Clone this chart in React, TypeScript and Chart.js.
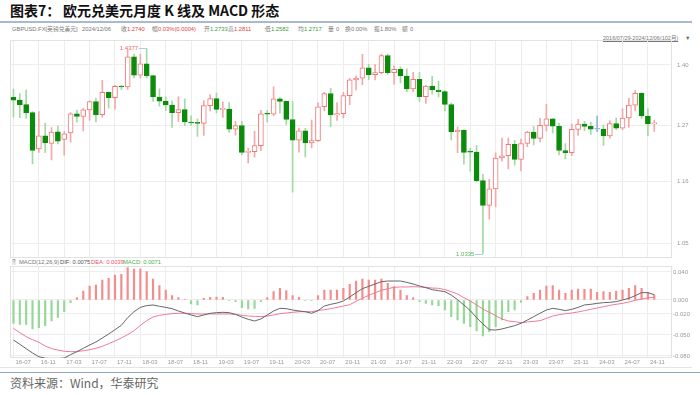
import React, { useEffect, useRef } from 'react';
import { Chart, registerables } from 'chart.js';

Chart.register(...registerables);

// ---------- categories ----------
const START_YEAR = 2016;
const START_MONTH = 7;
const COUNT = 102;
const months: string[] = Array.from({ length: COUNT }, (_, i) => {
  const m = START_MONTH - 1 + i;
  const yy = START_YEAR + Math.floor(m / 12);
  const mm = (m % 12) + 1;
  return `${String(yy).slice(2)}-${String(mm).padStart(2, '0')}`;
});
const labelIndexes: number[] = months.map((_, i) => i).filter((i) => i % 4 === 0);

// ---------- monthly candles (GBPUSD) ----------
const opens = [
  1.3290, 1.3230, 1.3135, 1.2966, 1.2230, 1.2490, 1.2340, 1.2570, 1.2418, 1.2549,
  1.2940, 1.2887, 1.3025, 1.3200, 1.2925, 1.3398, 1.3281, 1.3527, 1.3513, 1.4187,
  1.3771, 1.4024, 1.3764, 1.3296, 1.3207, 1.3126, 1.2966, 1.3030, 1.2772, 1.2751,
  1.2745, 1.3114, 1.3262, 1.3033, 1.3040, 1.2624, 1.2700, 1.2164, 1.2175, 1.2294,
  1.2941, 1.2935, 1.3257, 1.3205, 1.2824, 1.2404, 1.2594, 1.2347, 1.2396, 1.3089,
  1.3372, 1.2917, 1.2945, 1.3326, 1.3670, 1.3706, 1.3935, 1.3783, 1.3830, 1.4213,
  1.3829, 1.3900, 1.3755, 1.3473, 1.3682, 1.3302, 1.3532, 1.3447, 1.3413, 1.3137,
  1.2573, 1.2603, 1.2177, 1.2166, 1.1622, 1.1166, 1.1469, 1.2053, 1.2097, 1.2323,
  1.2026, 1.2337, 1.2567, 1.2440, 1.2702, 1.2836, 1.2686, 1.2199, 1.2159, 1.2622,
  1.2730, 1.2683, 1.2624, 1.2624, 1.2491, 1.2741, 1.2645, 1.2855, 1.3125, 1.3375,
  1.2897, 1.2733,
];
const highs = [
  1.3470, 1.3372, 1.3445, 1.2990, 1.2990, 1.2750, 1.2660, 1.2690, 1.2580, 1.2966,
  1.3020, 1.3055, 1.3213, 1.3267, 1.3657, 1.3400, 1.3549, 1.3555, 1.4346, 1.4250,
  1.4245, 1.4377, 1.3770, 1.3472, 1.3300, 1.3213, 1.3298, 1.3258, 1.2900, 1.2840,
  1.3218, 1.3350, 1.3381, 1.3196, 1.3177, 1.2784, 1.2784, 1.2249, 1.2583, 1.3013,
  1.3013, 1.3514, 1.3285, 1.3212, 1.3200, 1.2647, 1.2645, 1.2813, 1.3171, 1.3395,
  1.3482, 1.3177, 1.3398, 1.3704, 1.3759, 1.4241, 1.4017, 1.4009, 1.4249, 1.4249,
  1.3984, 1.3958, 1.3913, 1.3834, 1.3835, 1.3548, 1.3749, 1.3644, 1.3437, 1.3167,
  1.2667, 1.2617, 1.2246, 1.2294, 1.1738, 1.1646, 1.2154, 1.2446, 1.2448, 1.2402,
  1.2424, 1.2584, 1.2680, 1.2848, 1.3142, 1.2841, 1.2746, 1.2337, 1.2733, 1.2828,
  1.2786, 1.2773, 1.2894, 1.2709, 1.2801, 1.2860, 1.3044, 1.3266, 1.3434, 1.3390,
  1.3048, 1.2811,
];
const lows = [
  1.2870, 1.2860, 1.2850, 1.1940, 1.2160, 1.2158, 1.2015, 1.2327, 1.2110, 1.2365,
  1.2771, 1.2589, 1.2812, 1.2774, 1.2873, 1.3060, 1.3040, 1.3460, 1.3460, 1.3711,
  1.3711, 1.3711, 1.3204, 1.3102, 1.3010, 1.2662, 1.2785, 1.2696, 1.2700, 1.2477,
  1.2500, 1.3000, 1.2960, 1.2866, 1.2559, 1.2506, 1.2119, 1.1959, 1.2070, 1.2195,
  1.2769, 1.2905, 1.2954, 1.2725, 1.1409, 1.2165, 1.2076, 1.2252, 1.2380, 1.3005,
  1.2676, 1.2805, 1.2855, 1.3135, 1.3451, 1.3566, 1.3671, 1.3669, 1.3798, 1.3787,
  1.3572, 1.3602, 1.3412, 1.3412, 1.3195, 1.3161, 1.3358, 1.3300, 1.3001, 1.2411,
  1.2155, 1.1934, 1.1800, 1.1600, 1.0335, 1.0924, 1.1140, 1.1992, 1.1841, 1.1915,
  1.1803, 1.2275, 1.2308, 1.2369, 1.2591, 1.2548, 1.2111, 1.2037, 1.2096, 1.2500,
  1.2597, 1.2518, 1.2575, 1.2300, 1.2446, 1.2613, 1.2615, 1.2665, 1.3002, 1.2844,
  1.2487, 1.2582,
];
const closes = [
  1.3230, 1.3135, 1.2966, 1.2200, 1.2490, 1.2350, 1.2565, 1.2385, 1.2530, 1.2940,
  1.2887, 1.3025, 1.3200, 1.2925, 1.3398, 1.3281, 1.3527, 1.3513, 1.4187, 1.3771,
  1.4024, 1.3764, 1.3296, 1.3207, 1.3126, 1.2966, 1.3030, 1.2772, 1.2751, 1.2745,
  1.3114, 1.3262, 1.3033, 1.3040, 1.2624, 1.2700, 1.2164, 1.2175, 1.2294, 1.2941,
  1.2935, 1.3257, 1.3205, 1.2824, 1.2404, 1.2594, 1.2347, 1.2396, 1.3089, 1.3372,
  1.2917, 1.2945, 1.3326, 1.3670, 1.3706, 1.3935, 1.3783, 1.3830, 1.4213, 1.3829,
  1.3900, 1.3755, 1.3473, 1.3682, 1.3302, 1.3532, 1.3447, 1.3413, 1.3137, 1.2573,
  1.2603, 1.2164, 1.2166, 1.1622, 1.1166, 1.1469, 1.2053, 1.2097, 1.2323, 1.2026,
  1.2337, 1.2567, 1.2440, 1.2702, 1.2836, 1.2686, 1.2199, 1.2159, 1.2622, 1.2730,
  1.2683, 1.2624, 1.2624, 1.2491, 1.2741, 1.2645, 1.2855, 1.3125, 1.3375, 1.2897,
  1.2733, 1.2740,
];

// ---------- MACD(12,26,9) ----------
const dif = [
  -0.0571, -0.0633, -0.0695, -0.0757, -0.0810, -0.0833, -0.0838, -0.0838, -0.0829, -0.0781,
  -0.0738, -0.0690, -0.0643, -0.0600, -0.0543, -0.0486, -0.0424, -0.0362, -0.0252, -0.0167,
  -0.0105, -0.0081, -0.0071, -0.0090, -0.0105, -0.0124, -0.0157, -0.0186, -0.0214, -0.0238,
  -0.0214, -0.0190, -0.0181, -0.0176, -0.0181, -0.0205, -0.0243, -0.0276, -0.0300, -0.0271,
  -0.0214, -0.0157, -0.0119, -0.0124, -0.0143, -0.0157, -0.0167, -0.0190, -0.0152, -0.0086,
  -0.0062, -0.0043, -0.0014, 0.0043, 0.0105, 0.0162, 0.0195, 0.0229, 0.0262, 0.0271,
  0.0271, 0.0271, 0.0252, 0.0229, 0.0200, 0.0176, 0.0148, 0.0133, 0.0119, 0.0071,
  0.0005, -0.0071, -0.0152, -0.0252, -0.0343, -0.0424, -0.0429, -0.0414, -0.0390, -0.0367,
  -0.0333, -0.0286, -0.0238, -0.0190, -0.0143, -0.0119, -0.0133, -0.0152, -0.0133, -0.0105,
  -0.0071, -0.0062, -0.0048, -0.0038, -0.0033, -0.0024, 0.0000, 0.0024, 0.0062, 0.0105,
  0.0105, 0.0075,
];
const dea = [
  -0.0405, -0.0467, -0.0524, -0.0567, -0.0605, -0.0657, -0.0695, -0.0714, -0.0733, -0.0738,
  -0.0738, -0.0724, -0.0710, -0.0690, -0.0662, -0.0624, -0.0586, -0.0543, -0.0495, -0.0438,
  -0.0362, -0.0295, -0.0243, -0.0219, -0.0205, -0.0195, -0.0190, -0.0190, -0.0195, -0.0200,
  -0.0200, -0.0200, -0.0200, -0.0200, -0.0200, -0.0205, -0.0219, -0.0229, -0.0233, -0.0238,
  -0.0229, -0.0214, -0.0195, -0.0186, -0.0176, -0.0167, -0.0167, -0.0167, -0.0152, -0.0138,
  -0.0124, -0.0105, -0.0086, -0.0067, -0.0019, 0.0024, 0.0067, 0.0105, 0.0138, 0.0162,
  0.0181, 0.0186, 0.0186, 0.0190, 0.0186, 0.0181, 0.0171, 0.0167, 0.0148, 0.0119,
  0.0086, 0.0033, -0.0014, -0.0071, -0.0129, -0.0176, -0.0224, -0.0271, -0.0300, -0.0310,
  -0.0324, -0.0314, -0.0305, -0.0295, -0.0262, -0.0229, -0.0210, -0.0195, -0.0186, -0.0171,
  -0.0152, -0.0133, -0.0114, -0.0095, -0.0076, -0.0062, -0.0048, -0.0029, -0.0005, 0.0014,
  0.0029, 0.0039,
];
const macdHist = [
  -0.0333, -0.0348, -0.0348, -0.0414, -0.0395, -0.0367, -0.0300, -0.0248, -0.0167, -0.0038,
  0.0033, 0.0129, 0.0200, 0.0214, 0.0286, 0.0310, 0.0357, 0.0367, 0.0462, 0.0443,
  0.0443, 0.0405, 0.0300, 0.0205, 0.0143, 0.0062, 0.0033, 0.0010, -0.0057, -0.0071,
  0.0024, 0.0038, 0.0043, 0.0038, -0.0010, -0.0024, -0.0110, -0.0129, -0.0119, -0.0024,
  0.0033, 0.0119, 0.0167, 0.0133, 0.0062, 0.0038, -0.0005, -0.0010, 0.0062, 0.0143,
  0.0143, 0.0143, 0.0167, 0.0224, 0.0271, 0.0300, 0.0286, 0.0286, 0.0300, 0.0238,
  0.0190, 0.0143, 0.0062, 0.0033, -0.0024, -0.0048, -0.0071, -0.0081, -0.0143, -0.0238,
  -0.0286, -0.0333, -0.0381, -0.0443, -0.0514, -0.0452, -0.0381, -0.0286, -0.0167, -0.0143,
  -0.0033, 0.0048, 0.0095, 0.0143, 0.0200, 0.0205, 0.0143, 0.0095, 0.0143, 0.0157,
  0.0152, 0.0157, 0.0110, 0.0119, 0.0110, 0.0129, 0.0143, 0.0167, 0.0205, 0.0167,
  0.0105, 0.0071,
];

// ---------- tick labels ----------
const priceTicks = [1.05, 1.16, 1.27, 1.4];
const macdTicks = [0.04, 0, -0.02, -0.05, -0.08];

// ---------- header texts ----------
const TITLE_A = '图表7：';
const TITLE_B = '欧元兑美元月度 K 线及 MACD 形态';
const infoItems: [number, string, string][] = [
  [12, 'GBPUSD.FX[英镑兑美元]', 'g'],
  [82, '2024/12/06', 'g'],
  [121, '收', 'g'], [127, '1.2740', 'r'],
  [152, '幅', 'g'], [158, '0.03%(0.0004)', 'r'],
  [204, '开', 'g'], [210, '1.2733', 'e'],
  [228, '高', 'g'], [234, '1.2811', 'r'],
  [265, '低', 'g'], [271, '1.2582', 'e'],
  [298, '均', 'g'], [304, '1.2717', 'e'],
  [328, '量', 'g'], [336, '0', 'g'],
  [345, '换', 'g'], [351, '0.00%', 'g'],
  [374, '振', 'g'], [380, '1.80%', 'g'],
  [402, '额', 'g'], [410, '0', 'g'],
];
const RANGE_TEXT = '2016/07/29-2024/12/06(102月)';
const SOURCE_TEXT = '资料来源：Wind，华泰研究';

// ---------- styles ----------
const C_UP = '#f07878';
const C_UP_WICK = '#f6a8a8';
const C_DN = '#0b8b0b';
const C_DN_WICK = '#a3d9a3';
const C_EQ = '#8fb8dc';
const GRID = '#ededed';
const FRAME = '#e2e2e2';
const FONT_FAMILY = '"Liberation Sans", "Noto Sans", sans-serif';
const TICK_FONT = { family: FONT_FAMILY, size: 6 };
const X_MIN = -0.5;
const X_MAX = 103.8;

const framePlugin = {
  id: 'frame',
  beforeDatasetsDraw(chart: any) {
    const { ctx, chartArea: a } = chart;
    ctx.save();
    ctx.strokeStyle = FRAME;
    ctx.lineWidth = 1;
    ctx.strokeRect(Math.round(a.left) + 0.5, Math.round(a.top) + 0.5, Math.round(a.right - a.left) - 1, Math.round(a.bottom - a.top) - 1);
    ctx.restore();
  },
};

const makeYLabels = (ticks: number[], fmt: (v: number) => string, dx: number) => ({
  id: 'ylabels',
  afterDraw(chart: any) {
    const { ctx, chartArea } = chart;
    const ys = chart.scales.y;
    ctx.save();
    ctx.font = `6px ${FONT_FAMILY}`;
    ctx.fillStyle = '#999999';
    ctx.textAlign = 'left';
    ctx.textBaseline = 'middle';
    ticks.forEach((v) => ctx.fillText(fmt(v), chartArea.right + dx, ys.getPixelForValue(v)));
    ctx.restore();
  },
});

const extremesPlugin = {
  id: 'extremes',
  afterDatasetsDraw(chart: any) {
    const { ctx } = chart;
    const xs = chart.scales.x;
    const ys = chart.scales.y;
    let hi = 0;
    let lo = 0;
    highs.forEach((h, i) => { if (h > highs[hi]) hi = i; });
    lows.forEach((l, i) => { if (l < lows[lo]) lo = i; });
    const mark = (i: number, v: number, color: string) => {
      const px = xs.getPixelForValue(i);
      const py = Math.round(ys.getPixelForValue(v)) + 0.5;
      ctx.save();
      ctx.strokeStyle = '#a9cfe8';
      ctx.lineWidth = 1;
      ctx.beginPath();
      ctx.moveTo(px - 8, py);
      ctx.lineTo(px, py);
      ctx.stroke();
      ctx.fillStyle = color;
      ctx.font = `6px ${FONT_FAMILY}`;
      ctx.textAlign = 'right';
      ctx.textBaseline = 'middle';
      ctx.fillText(v.toFixed(4), px - 8.5, py);
      ctx.restore();
    };
    mark(hi, highs[hi], '#ee6464');
    mark(lo, lows[lo], '#5fb35f');
  },
};

export default function App() {
  const mainRef = useRef<HTMLCanvasElement>(null);
  const macdRef = useRef<HTMLCanvasElement>(null);

  useEffect(() => {
    const idx = opens.map((_, i) => i);
    const kind = (i: number) => (closes[i] > opens[i] ? 1 : closes[i] < opens[i] ? -1 : 0);
    const bodyFill = idx.map((i) => (kind(i) > 0 ? '#ffffff' : kind(i) < 0 ? C_DN : C_EQ));
    const bodyBorder = idx.map((i) => (kind(i) > 0 ? C_UP : kind(i) < 0 ? C_DN : C_EQ));
    const wickColor = idx.map((i) => (kind(i) > 0 ? C_UP_WICK : kind(i) < 0 ? C_DN_WICK : C_EQ));

    const xTicks = (s: any) => { s.ticks = labelIndexes.map((v) => ({ value: v })); };

    const main = new Chart(mainRef.current as HTMLCanvasElement, {
      type: 'bar',
      data: {
        datasets: [
          {
            label: 'body',
            data: idx.map((i) => ({ x: i, y: [opens[i], closes[i]] })) as any,
            backgroundColor: bodyFill,
            borderColor: bodyBorder,
            borderWidth: 1,
            borderSkipped: false,
            barThickness: 5,
            minBarLength: 1,
            grouped: false,
            order: 0,
          } as any,
          {
            label: 'wick',
            data: idx.map((i) => ({ x: i, y: [lows[i], highs[i]] })) as any,
            backgroundColor: wickColor,
            borderWidth: 0,
            barThickness: 1,
            grouped: false,
            order: 1,
          } as any,
        ],
      },
      options: {
        animation: false,
        responsive: false,
        maintainAspectRatio: false,
        layout: { padding: { left: 10.3, right: 0, top: 0, bottom: 0 }, autoPadding: false } as any,
        plugins: { legend: { display: false }, tooltip: { enabled: false } },
        scales: {
          x: {
            type: 'linear',
            offset: false,
            min: X_MIN,
            max: X_MAX,
            afterBuildTicks: xTicks,
            afterFit: (s: any) => { s.height = 0; },
            ticks: { display: false },
            grid: { color: GRID, drawTicks: false, offset: false },
            border: { display: false },
          } as any,
          y: {
            type: 'logarithmic',
            position: 'right',
            min: 1.02605,
            max: 1.4575,
            bounds: 'data',
            afterBuildTicks: (s: any) => { s.ticks = priceTicks.map((v) => ({ value: v })); },
            afterFit: (s: any) => { s.width = 28; },
            ticks: { display: false },
            grid: { color: GRID, drawTicks: false },
            border: { display: false },
          } as any,
        },
      },
      plugins: [framePlugin, extremesPlugin, makeYLabels(priceTicks, (v) => v.toFixed(2), 5)],
    });

    const macd = new Chart(macdRef.current as HTMLCanvasElement, {
      type: 'bar',
      data: {
        datasets: [
          {
            type: 'line',
            label: 'DIF',
            data: idx.map((i) => ({ x: i, y: dif[i] })),
            borderColor: '#666666',
            borderWidth: 1,
            pointRadius: 0,
            tension: 0,
            order: 0,
          } as any,
          {
            type: 'line',
            label: 'DEA',
            data: idx.map((i) => ({ x: i, y: dea[i] })),
            borderColor: '#f07a96',
            borderWidth: 1,
            pointRadius: 0,
            tension: 0,
            order: 1,
          } as any,
          {
            type: 'bar',
            label: 'MACD',
            data: idx.map((i) => ({ x: i, y: macdHist[i] })),
            backgroundColor: macdHist.map((v) => (v >= 0 ? '#f48c8c' : '#95d895')),
            borderWidth: 0,
            barThickness: 1.5,
            grouped: false,
            order: 2,
          } as any,
        ],
      },
      options: {
        animation: false,
        responsive: false,
        maintainAspectRatio: false,
        layout: { padding: { left: 10.3, right: 0, top: 0, bottom: 0 }, autoPadding: false } as any,
        plugins: { legend: { display: false }, tooltip: { enabled: false } },
        scales: {
          x: {
            type: 'linear',
            offset: false,
            min: X_MIN,
            max: X_MAX,
            afterBuildTicks: xTicks,
            afterFit: (s: any) => { s.height = 14; },
            ticks: {
              callback: (v: any) => months[Math.round(Number(v))] ?? '',
              font: TICK_FONT,
              color: '#999999',
              padding: 1,
              align: 'start',
              labelOffset: 2,
              maxRotation: 0,
              autoSkip: false,
            },
            grid: { color: GRID, drawTicks: false, offset: false },
            border: { display: false },
          } as any,
          y: {
            type: 'linear',
            position: 'right',
            min: -0.08286,
            max: 0.04857,
            afterBuildTicks: (s: any) => { s.ticks = macdTicks.map((v) => ({ value: v })); },
            afterFit: (s: any) => { s.width = 28; },
            ticks: { display: false },
            grid: { color: GRID, drawTicks: false },
            border: { display: false },
          } as any,
        },
      },
      plugins: [framePlugin, makeYLabels(macdTicks, (v) => v.toFixed(3), 1)],
    });

    return () => {
      main.destroy();
      macd.destroy();
    };
  }, []);

  const colorOf = (k: string) => (k === 'r' ? '#e5443f' : k === 'e' ? '#3a9e3a' : '#777777');
  const cjk = '"Liberation Sans", "Noto Sans CJK SC", sans-serif';
  const small = { position: 'absolute' as const, fontSize: 5.8, lineHeight: '8px', whiteSpace: 'nowrap' as const };

  return (
    <div
      style={{
        position: 'absolute',
        left: 0,
        top: 0,
        width: 700,
        height: 395,
        background: '#ffffff',
        overflow: 'hidden',
        fontFamily: cjk,
      }}
    >
      <div style={{ position: 'absolute', left: 10, top: 2, fontSize: 14, lineHeight: '17px', fontWeight: 700, color: '#111', fontFamily: '"Noto Sans CJK SC", sans-serif', whiteSpace: 'nowrap' }}>
        {TITLE_A}
      </div>
      <div style={{ position: 'absolute', left: 63, top: 2, fontSize: 14, lineHeight: '17px', fontWeight: 700, color: '#111', fontFamily: '"Noto Sans CJK SC", sans-serif', whiteSpace: 'nowrap' }}>
        {TITLE_B}
      </div>
      <div style={{ position: 'absolute', left: 0, top: 21, width: 692, height: 1.5, background: '#a8b9d0' }} />

      {infoItems.map(([x, t, k], i) => (
        <div key={i} style={{ ...small, left: x, top: 25, color: colorOf(k) }}>
          {t}
        </div>
      ))}
      <div style={{ ...small, left: 603, top: 34, fontSize: 5.5, color: '#777', textDecoration: 'underline' }}>
        {RANGE_TEXT}
      </div>
      <div style={{ ...small, left: 685, top: 34, fontSize: 5.5, color: '#666' }}>▼</div>

      <canvas ref={mainRef} width={700} height={218} style={{ position: 'absolute', left: 0, top: 40, width: 700, height: 218 }} />

      <div style={{ position: 'absolute', left: 12, top: 259, width: 4, height: 5.5, background: '#e8e8e8', fontSize: 5, lineHeight: '5.5px', color: '#777', textAlign: 'center' }}>?</div>
      <div style={{ ...small, left: 19, top: 258, color: '#777' }}>MACD(12,26,9)</div>
      <div style={{ ...small, left: 60, top: 258, color: '#555' }}>DIF: {dif[COUNT - 1].toFixed(4)}</div>
      <div style={{ ...small, left: 91, top: 258, color: '#e8556a' }}>DEA: {dea[COUNT - 1].toFixed(4)}</div>
      <div style={{ ...small, left: 123, top: 258, color: '#49b049' }}>MACD: {macdHist[COUNT - 1].toFixed(4)}</div>

      <canvas ref={macdRef} width={700} height={106} style={{ position: 'absolute', left: 0, top: 266, width: 700, height: 106 }} />

      <div style={{ position: 'absolute', left: 0, top: 367, width: 692, height: 1, background: '#e4e4e4' }} />
      <div style={{ position: 'absolute', left: 0, top: 371.5, width: 700, height: 1.5, background: '#8ea6c4' }} />
      <div style={{ position: 'absolute', left: 10, top: 375, fontSize: 12, lineHeight: '16px', color: '#666', fontFamily: '"Noto Sans CJK SC", sans-serif', whiteSpace: 'nowrap' }}>
        {SOURCE_TEXT}
      </div>
    </div>
  );
}
